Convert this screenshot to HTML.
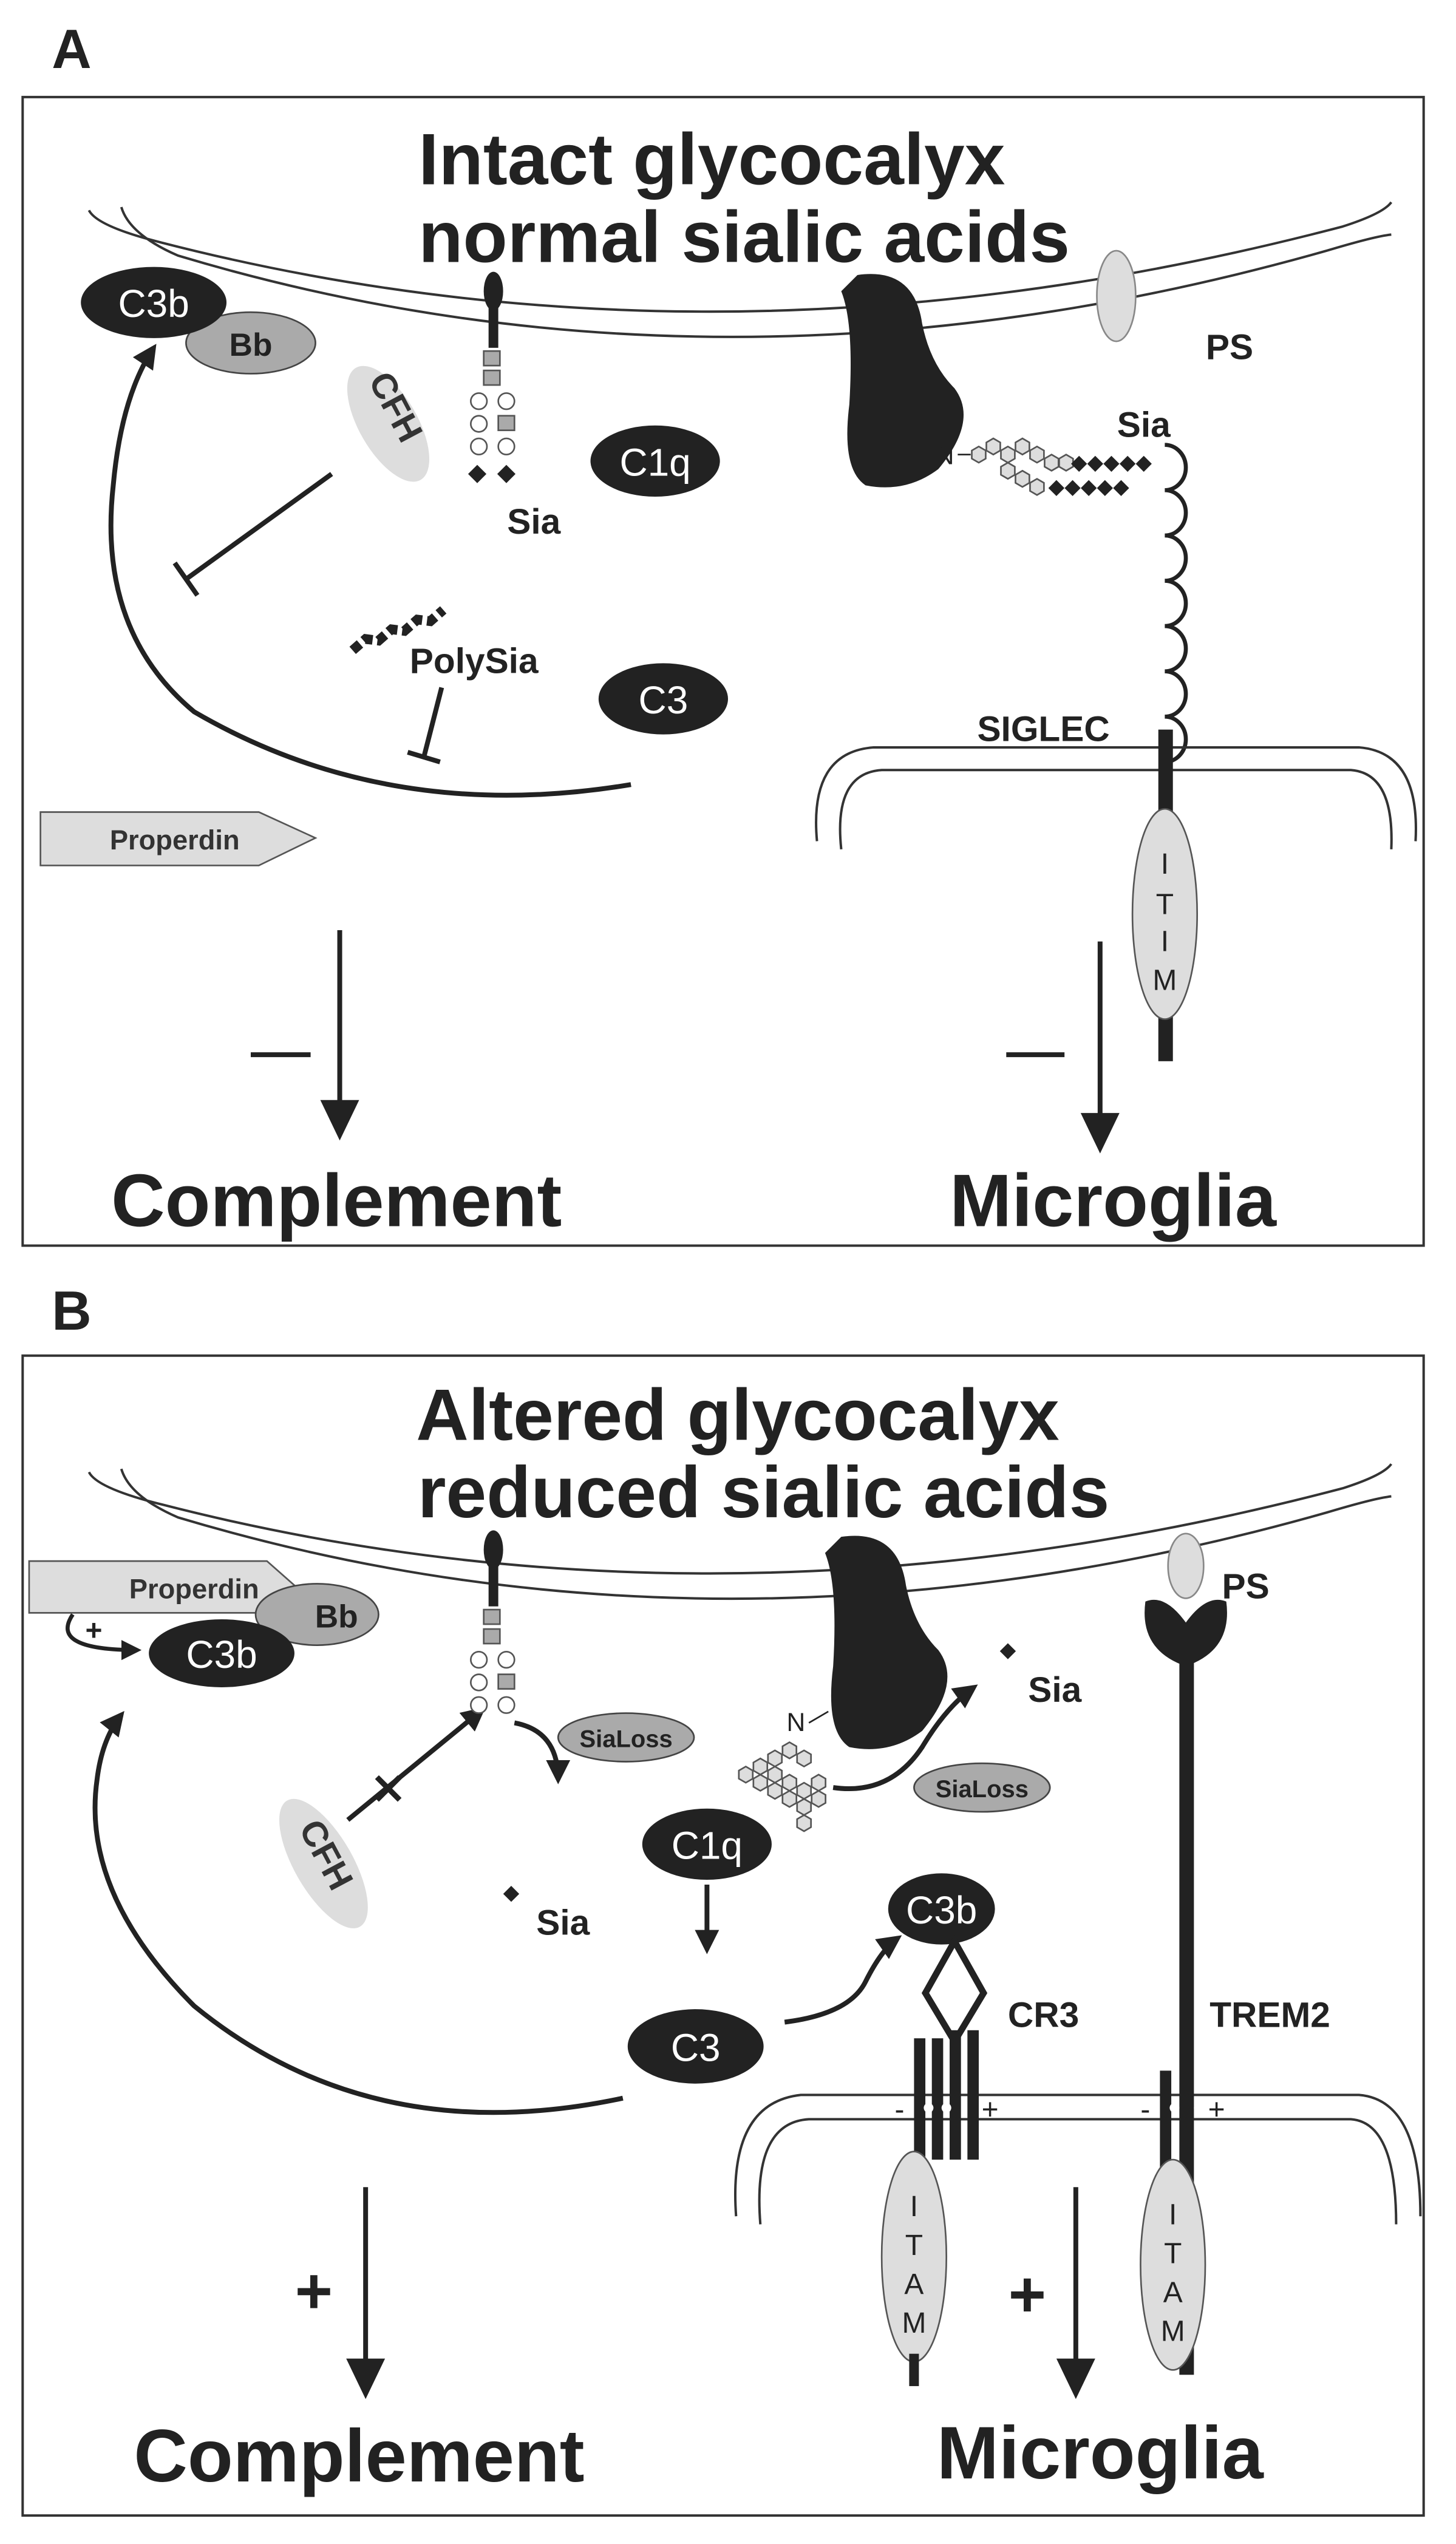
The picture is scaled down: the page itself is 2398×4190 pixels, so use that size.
<!DOCTYPE html>
<html><head><meta charset="utf-8"><style>html,body{margin:0;padding:0;background:#fff}svg{display:block}</style></head>
<body>
<svg width="2398" height="4190" viewBox="0 0 900 1572.6" preserveAspectRatio="none" xmlns="http://www.w3.org/2000/svg" font-family="Liberation Sans, Arial, sans-serif">
<defs>
<marker id="ah" viewBox="0 0 10 10" refX="8" refY="5" markerWidth="5" markerHeight="5" orient="auto"><path d="M0,0 L10,5 L0,10 z" fill="#222"/></marker>
<g id="hex"><polygon points="0,-5 4.3,-2.5 4.3,2.5 0,5 -4.3,2.5 -4.3,-2.5" fill="#ddd" stroke="#555" stroke-width="1"/></g>
</defs>
<rect width="900" height="1573" fill="#fff"/>
<text x="32" y="42" font-size="34" font-weight="bold" fill="#222">A</text>
<text x="32" y="822" font-size="34" font-weight="bold" fill="#222">B</text>
<rect x="14" y="60" width="866" height="710" fill="none" stroke="#333" stroke-width="1.5"/>
<rect x="14" y="838" width="866" height="717" fill="none" stroke="#333" stroke-width="1.5"/>

<!-- ===== PANEL A ===== -->
<path d="M55,130 Q60,140 100,150 Q450,240 830,140 Q855,132 860,125" fill="none" stroke="#333" stroke-width="1.5"/>
<path d="M75,128 Q80,145 110,158 Q450,260 820,155 Q850,146 860,145" fill="none" stroke="#333" stroke-width="1.5"/>
<text x="440" y="114" font-size="45" font-weight="bold" fill="#222" text-anchor="middle">Intact glycocalyx</text>
<text x="460" y="162" font-size="45" font-weight="bold" fill="#222" text-anchor="middle">normal sialic acids</text>

<path d="M390,485 Q240,510 120,440 Q60,390 70,300 Q75,245 95,215" fill="none" stroke="#222" stroke-width="3" marker-end="url(#ah)"/>
<ellipse cx="155" cy="212" rx="40" ry="19" fill="#aaa" stroke="#444"/>
<text x="155" y="220" font-size="20" font-weight="bold" text-anchor="middle" fill="#222">Bb</text>
<ellipse cx="95" cy="187" rx="45" ry="22" fill="#222"/>
<text x="95" y="196" font-size="24" text-anchor="middle" fill="#fff">C3b</text>
<ellipse cx="240" cy="262" rx="18" ry="40" transform="rotate(-30 240 262)" fill="#ddd"/>
<text x="238" y="255" font-size="22" font-weight="bold" fill="#333" transform="rotate(62 238 255)" text-anchor="middle">CFH</text>
<line x1="205" y1="293" x2="115" y2="358" stroke="#222" stroke-width="3"/>
<line x1="108" y1="348" x2="122" y2="368" stroke="#222" stroke-width="3"/>
<ellipse cx="305" cy="180" rx="6" ry="12" fill="#222"/>
<rect x="302" y="190" width="6" height="25" fill="#222"/>
<rect x="299" y="217" width="10" height="9" fill="#aaa" stroke="#555"/>
<rect x="299" y="229" width="10" height="9" fill="#aaa" stroke="#555"/>
<circle cx="296" cy="248" r="5" fill="#fff" stroke="#555"/><circle cx="313" cy="248" r="5" fill="#fff" stroke="#555"/>
<circle cx="296" cy="262" r="5" fill="#fff" stroke="#555"/><rect x="308" y="257" width="10" height="9" fill="#aaa" stroke="#555"/>
<circle cx="296" cy="276" r="5" fill="#fff" stroke="#555"/><circle cx="313" cy="276" r="5" fill="#fff" stroke="#555"/>
<rect x="291" y="289" width="8" height="8" fill="#222" transform="rotate(45 295 293)"/><rect x="309" y="289" width="8" height="8" fill="#222" transform="rotate(45 313 293)"/>
<text x="330" y="330" font-size="22" font-weight="bold" fill="#222" text-anchor="middle">Sia</text>
<ellipse cx="405" cy="285" rx="40" ry="22" fill="#222"/>
<text x="405" y="294" font-size="24" text-anchor="middle" fill="#fff">C1q</text>
<path d="M218,402 L226,395 L234,396 L242,389 L250,390 L258,383 L266,384 L274,377" fill="none" stroke="#222" stroke-width="6" stroke-dasharray="6,3"/>
<text x="293" y="416" font-size="22" font-weight="bold" fill="#222" text-anchor="middle">PolySia</text>
<line x1="273" y1="425" x2="262" y2="468" stroke="#222" stroke-width="3"/>
<line x1="252" y1="465" x2="272" y2="471" stroke="#222" stroke-width="3"/>
<ellipse cx="410" cy="432" rx="40" ry="22" fill="#222"/>
<text x="410" y="441" font-size="24" text-anchor="middle" fill="#fff">C3</text>
<polygon points="25,502 160,502 195,518 160,535 25,535" fill="#ddd" stroke="#555"/>
<text x="108" y="525" font-size="17" font-weight="bold" text-anchor="middle" fill="#333">Properdin</text>
<line x1="210" y1="575" x2="210" y2="700" stroke="#222" stroke-width="3"/>
<polygon points="198,680 222,680 210,705" fill="#222"/>
<line x1="155" y1="652" x2="192" y2="652" stroke="#222" stroke-width="3"/>
<text x="208" y="758" font-size="46" font-weight="bold" text-anchor="middle" fill="#222">Complement</text>
<path d="M530,170 Q565,165 570,200 Q575,225 590,240 Q605,260 580,290 Q560,305 535,300 Q520,290 525,250 Q528,200 520,180 Z" fill="#222"/>
<ellipse cx="690" cy="183" rx="12" ry="28" fill="#ddd" stroke="#888"/>
<text x="760" y="222" font-size="22" font-weight="bold" fill="#222" text-anchor="middle">PS</text>
<text x="584" y="287" font-size="16" fill="#222" text-anchor="middle">N</text>
<line x1="592" y1="281" x2="600" y2="281" stroke="#222"/>
<use href="#hex" x="605" y="281"/><use href="#hex" x="614" y="276"/><use href="#hex" x="623" y="281"/><use href="#hex" x="632" y="276"/>
<use href="#hex" x="623" y="291"/><use href="#hex" x="632" y="296"/><use href="#hex" x="641" y="301"/>
<use href="#hex" x="641" y="281"/><use href="#hex" x="650" y="286"/><use href="#hex" x="659" y="286"/>
<g fill="#222"><rect x="664" y="283" width="7" height="7" transform="rotate(45 667 286)"/><rect x="674" y="283" width="7" height="7" transform="rotate(45 677 286)"/><rect x="684" y="283" width="7" height="7" transform="rotate(45 687 286)"/><rect x="694" y="283" width="7" height="7" transform="rotate(45 697 286)"/><rect x="704" y="283" width="7" height="7" transform="rotate(45 707 286)"/>
<rect x="650" y="298" width="7" height="7" transform="rotate(45 653 301)"/><rect x="660" y="298" width="7" height="7" transform="rotate(45 663 301)"/><rect x="670" y="298" width="7" height="7" transform="rotate(45 673 301)"/><rect x="680" y="298" width="7" height="7" transform="rotate(45 683 301)"/><rect x="690" y="298" width="7" height="7" transform="rotate(45 693 301)"/></g>
<text x="707" y="270" font-size="22" font-weight="bold" fill="#222" text-anchor="middle">Sia</text>
<path d="M720,275 a13,14 0 0 1 0,28 a13,14 0 0 1 0,28 a13,14 0 0 1 0,28 a13,14 0 0 1 0,28 a13,14 0 0 1 0,28 a13,14 0 0 1 0,28 a13,14 0 0 1 0,28" fill="none" stroke="#222" stroke-width="2.5"/>
<path d="M505,520 Q500,465 540,462 L840,462 Q878,465 875,520" fill="none" stroke="#333" stroke-width="1.5"/>
<path d="M520,525 Q515,478 545,476 L835,476 Q862,478 860,525" fill="none" stroke="#333" stroke-width="1.5"/>
<rect x="716" y="451" width="9" height="205" fill="#222"/>
<ellipse cx="720" cy="565" rx="20" ry="65" fill="#ddd" stroke="#555"/>
<text x="720" y="540" font-size="18" text-anchor="middle" fill="#222">I</text>
<text x="720" y="565" font-size="18" text-anchor="middle" fill="#222">T</text>
<text x="720" y="588" font-size="18" text-anchor="middle" fill="#222">I</text>
<text x="720" y="612" font-size="18" text-anchor="middle" fill="#222">M</text>
<text x="645" y="458" font-size="22" font-weight="bold" fill="#222" text-anchor="middle">SIGLEC</text>
<line x1="680" y1="582" x2="680" y2="708" stroke="#222" stroke-width="3"/>
<polygon points="668,688 692,688 680,713" fill="#222"/>
<line x1="622" y1="652" x2="658" y2="652" stroke="#222" stroke-width="3"/>
<text x="688" y="758" font-size="46" font-weight="bold" text-anchor="middle" fill="#222">Microglia</text>

<!-- ===== PANEL B ===== -->
<path d="M55,910 Q60,920 100,930 Q450,1020 830,920 Q855,912 860,905" fill="none" stroke="#333" stroke-width="1.5"/>
<path d="M75,908 Q80,925 110,938 Q450,1040 820,935 Q850,926 860,925" fill="none" stroke="#333" stroke-width="1.5"/>
<text x="456" y="890" font-size="45" font-weight="bold" fill="#222" text-anchor="middle">Altered glycocalyx</text>
<text x="472" y="938" font-size="45" font-weight="bold" fill="#222" text-anchor="middle">reduced sialic acids</text>
<polygon points="18,965 165,965 182,980 165,997 18,997" fill="#ddd" stroke="#555"/>
<text x="120" y="988" font-size="17" font-weight="bold" text-anchor="middle" fill="#333">Properdin</text>
<ellipse cx="196" cy="998" rx="38" ry="19" fill="#aaa" stroke="#444"/>
<text x="208" y="1006" font-size="20" font-weight="bold" text-anchor="middle" fill="#222">Bb</text>
<ellipse cx="137" cy="1022" rx="45" ry="21" fill="#222"/>
<text x="137" y="1031" font-size="24" text-anchor="middle" fill="#fff">C3b</text>
<path d="M45,998 Q30,1020 85,1020" fill="none" stroke="#222" stroke-width="2.5" marker-end="url(#ah)"/>
<text x="58" y="1014" font-size="18" font-weight="bold" fill="#222" text-anchor="middle">+</text>
<path d="M385,1297 Q230,1330 120,1240 Q50,1170 60,1100 Q63,1075 75,1060" fill="none" stroke="#222" stroke-width="3" marker-end="url(#ah)"/>
<ellipse cx="200" cy="1152" rx="18" ry="45" transform="rotate(-30 200 1152)" fill="#ddd"/>
<text x="195" y="1150" font-size="22" font-weight="bold" fill="#333" transform="rotate(62 195 1150)" text-anchor="middle">CFH</text>
<line x1="215" y1="1125" x2="298" y2="1057" stroke="#222" stroke-width="3" marker-end="url(#ah)"/>
<text x="240" y="1115" font-size="26" font-weight="bold" fill="#222" text-anchor="middle">✕</text>
<ellipse cx="305" cy="958" rx="6" ry="12" fill="#222"/>
<rect x="302" y="968" width="6" height="25" fill="#222"/>
<rect x="299" y="995" width="10" height="9" fill="#aaa" stroke="#555"/>
<rect x="299" y="1007" width="10" height="9" fill="#aaa" stroke="#555"/>
<circle cx="296" cy="1026" r="5" fill="#fff" stroke="#555"/><circle cx="313" cy="1026" r="5" fill="#fff" stroke="#555"/>
<circle cx="296" cy="1040" r="5" fill="#fff" stroke="#555"/><rect x="308" y="1035" width="10" height="9" fill="#aaa" stroke="#555"/>
<circle cx="296" cy="1054" r="5" fill="#fff" stroke="#555"/><circle cx="313" cy="1054" r="5" fill="#fff" stroke="#555"/>
<path d="M318,1065 Q345,1070 345,1100" fill="none" stroke="#222" stroke-width="3" marker-end="url(#ah)"/>
<ellipse cx="387" cy="1074" rx="42" ry="15" fill="#aaa" stroke="#444"/>
<text x="387" y="1080" font-size="15" font-weight="bold" text-anchor="middle" fill="#222">SiaLoss</text>
<rect x="313" y="1167" width="7" height="7" fill="#222" transform="rotate(45 316 1170)"/>
<text x="348" y="1196" font-size="22" font-weight="bold" fill="#222" text-anchor="middle">Sia</text>
<path d="M520,950 Q555,945 560,980 Q565,1005 580,1020 Q595,1040 570,1070 Q550,1085 525,1080 Q510,1070 515,1030 Q518,980 510,960 Z" fill="#222"/>
<text x="492" y="1070" font-size="16" fill="#222" text-anchor="middle">N</text>
<line x1="500" y1="1065" x2="512" y2="1058" stroke="#222"/>
<use href="#hex" x="488" y="1082"/><use href="#hex" x="479" y="1087"/><use href="#hex" x="470" y="1092"/><use href="#hex" x="497" y="1087"/>
<use href="#hex" x="461" y="1097"/><use href="#hex" x="470" y="1102"/><use href="#hex" x="479" y="1107"/><use href="#hex" x="488" y="1102"/><use href="#hex" x="497" y="1107"/><use href="#hex" x="506" y="1102"/>
<use href="#hex" x="479" y="1097"/><use href="#hex" x="488" y="1112"/><use href="#hex" x="497" y="1117"/><use href="#hex" x="506" y="1112"/><use href="#hex" x="497" y="1127"/>
<ellipse cx="437" cy="1140" rx="40" ry="22" fill="#222"/>
<text x="437" y="1149" font-size="24" text-anchor="middle" fill="#fff">C1q</text>
<line x1="437" y1="1165" x2="437" y2="1205" stroke="#222" stroke-width="3" marker-end="url(#ah)"/>
<path d="M515,1105 Q550,1110 570,1080 Q585,1055 602,1043" fill="none" stroke="#222" stroke-width="3" marker-end="url(#ah)"/>
<rect x="620" y="1017" width="7" height="7" fill="#222" transform="rotate(45 623 1020)"/>
<text x="652" y="1052" font-size="22" font-weight="bold" fill="#222" text-anchor="middle">Sia</text>
<ellipse cx="607" cy="1105" rx="42" ry="15" fill="#aaa" stroke="#444"/>
<text x="607" y="1111" font-size="15" font-weight="bold" text-anchor="middle" fill="#222">SiaLoss</text>
<ellipse cx="430" cy="1265" rx="42" ry="23" fill="#222"/>
<text x="430" y="1274" font-size="24" text-anchor="middle" fill="#fff">C3</text>
<path d="M485,1250 Q525,1245 535,1225 Q545,1205 555,1198" fill="none" stroke="#222" stroke-width="3" marker-end="url(#ah)"/>
<ellipse cx="582" cy="1180" rx="33" ry="22" fill="#222"/>
<text x="582" y="1189" font-size="24" text-anchor="middle" fill="#fff">C3b</text>
<polygon points="590,1200 608,1232 590,1262 572,1232" fill="none" stroke="#222" stroke-width="4"/>
<text x="645" y="1253" font-size="22" font-weight="bold" fill="#222" text-anchor="middle">CR3</text>
<path d="M455,1370 Q450,1300 495,1295 L840,1295 Q878,1298 878,1370" fill="none" stroke="#333" stroke-width="1.5"/>
<path d="M470,1375 Q465,1312 500,1310 L835,1310 Q863,1312 863,1375" fill="none" stroke="#333" stroke-width="1.5"/>
<rect x="565" y="1260" width="7" height="75" fill="#222"/><rect x="576" y="1260" width="7" height="75" fill="#222"/>
<rect x="587" y="1255" width="7" height="80" fill="#222"/><rect x="598" y="1255" width="7" height="80" fill="#222"/>
<circle cx="574" cy="1303" r="3" fill="#fff"/><circle cx="585" cy="1303" r="3" fill="#fff"/>
<text x="556" y="1310" font-size="18" fill="#222" text-anchor="middle">-</text>
<text x="612" y="1310" font-size="18" fill="#222" text-anchor="middle">+</text>
<ellipse cx="565" cy="1395" rx="20" ry="65" fill="#ddd" stroke="#555"/>
<rect x="562" y="1455" width="6" height="20" fill="#222"/>
<text x="565" y="1370" font-size="18" text-anchor="middle" fill="#222">I</text>
<text x="565" y="1394" font-size="18" text-anchor="middle" fill="#222">T</text>
<text x="565" y="1418" font-size="18" text-anchor="middle" fill="#222">A</text>
<text x="565" y="1442" font-size="18" text-anchor="middle" fill="#222">M</text>
<ellipse cx="733" cy="968" rx="11" ry="20" fill="#ddd" stroke="#888"/>
<path d="M708,990 Q720,985 733,1003 Q746,985 758,990 Q762,1020 733,1030 Q704,1020 708,990 Z" fill="#222"/>
<rect x="729" y="1028" width="9" height="440" fill="#222"/>
<rect x="717" y="1280" width="7" height="60" fill="#222"/>
<circle cx="726" cy="1303" r="3" fill="#fff"/><circle cx="741" cy="1303" r="3" fill="#fff"/>
<text x="708" y="1310" font-size="18" fill="#222" text-anchor="middle">-</text>
<text x="752" y="1310" font-size="18" fill="#222" text-anchor="middle">+</text>
<text x="770" y="988" font-size="22" font-weight="bold" fill="#222" text-anchor="middle">PS</text>
<text x="785" y="1253" font-size="22" font-weight="bold" fill="#222" text-anchor="middle">TREM2</text>
<ellipse cx="725" cy="1400" rx="20" ry="65" fill="#ddd" stroke="#555"/>
<text x="725" y="1375" font-size="18" text-anchor="middle" fill="#222">I</text>
<text x="725" y="1399" font-size="18" text-anchor="middle" fill="#222">T</text>
<text x="725" y="1423" font-size="18" text-anchor="middle" fill="#222">A</text>
<text x="725" y="1447" font-size="18" text-anchor="middle" fill="#222">M</text>
<line x1="665" y1="1352" x2="665" y2="1475" stroke="#222" stroke-width="3"/>
<polygon points="653,1458 677,1458 665,1483" fill="#222"/>
<text x="635" y="1432" font-size="40" font-weight="bold" fill="#222" text-anchor="middle">+</text>
<line x1="226" y1="1352" x2="226" y2="1475" stroke="#222" stroke-width="3"/>
<polygon points="214,1458 238,1458 226,1483" fill="#222"/>
<text x="194" y="1430" font-size="40" font-weight="bold" fill="#222" text-anchor="middle">+</text>
<text x="222" y="1534" font-size="46" font-weight="bold" text-anchor="middle" fill="#222">Complement</text>
<text x="680" y="1532" font-size="46" font-weight="bold" text-anchor="middle" fill="#222">Microglia</text>
</svg>
</body></html>
